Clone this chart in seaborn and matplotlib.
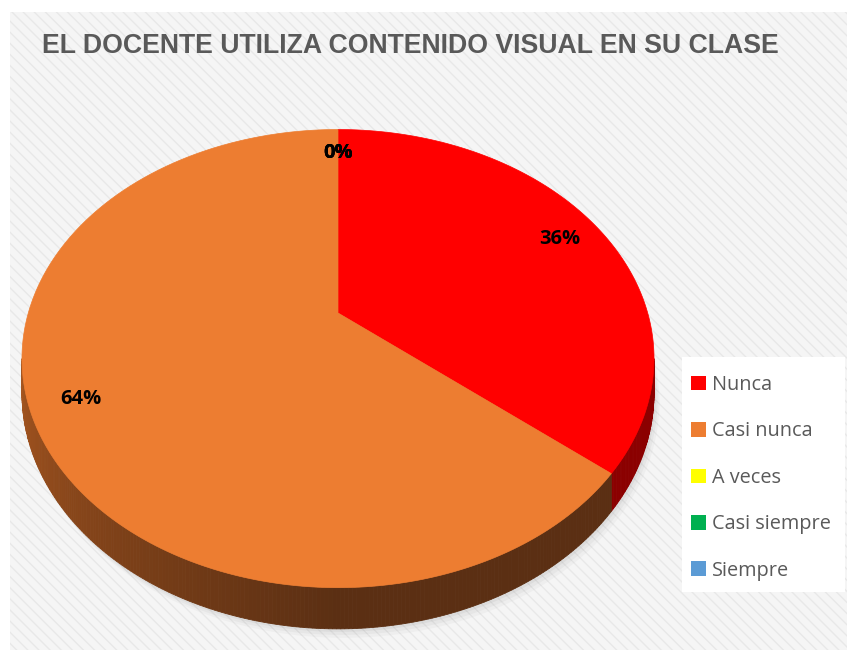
import matplotlib.pyplot as plt
import numpy as np
import seaborn as sns
from matplotlib.colors import to_rgb
from matplotlib.patches import Patch, Rectangle

# --- data ---
title = "EL DOCENTE UTILIZA CONTENIDO VISUAL EN SU CLASE"
categories = ["Nunca", "Casi nunca", "A veces", "Casi siempre", "Siempre"]
values = [36, 64, 0, 0, 0]
slice_colors = ["#ff0000", "#ed7d31", "#ffff00", "#00b050", "#5b9bd5"]
side_colors = ["#8b0000", "#5e3115", "#8c8c00", "#00582a", "#2e5a80"]

sns.set_theme(style="white")
plt.rcParams["font.family"] = ["Open Sans", "DejaVu Sans"]
palette = sns.color_palette(slice_colors)

fig = plt.figure(figsize=(8.47, 6.5), dpi=100)
ax = fig.add_axes([0, 0, 1, 1])
ax.set_xlim(0, 847)
ax.set_ylim(650, 0)
ax.axis("off")

# chart area background with diagonal stripes
bg = Rectangle((10, 12), 837, 640, facecolor="#f5f5f5", edgecolor="#e8e8e8",
               hatch="\\\\\\", linewidth=0, zorder=0)
ax.add_patch(bg)

# perspective pie geometry (screen pixels)
cx, cy = 338, 313
A, B, k = 309.7, 220.0, 0.199
D = 33.0


def proj(frac, r=1.0):
    th = 2 * np.pi * np.asarray(frac)
    u = r * np.sin(th)
    v = r * np.cos(th)
    w = 1 + k * v
    return cx + A * u / w, cy - B * v / w, w


fracs = np.array(values, dtype=float) / sum(values)
starts = np.concatenate([[0], np.cumsum(fracs)[:-1]])
ends = np.cumsum(fracs)

# soft shadow under the pie
full = np.linspace(0, 1, 400)
sx, sy, sw = proj(full)
for off, al in [(9, 0.05), (6, 0.07), (3, 0.09)]:
    ax.fill(sx + off * 0.6, sy + D / sw + off, color="#7f7f7f", alpha=al, lw=0, zorder=1)

# visible side of the pie
f_right = np.arccos(-k) / (2 * np.pi)
f_left = 1 - f_right
dark = np.array(to_rgb("#5b2f13"))
light = np.array(to_rgb("#a5551f"))
for i, (f0, f1) in enumerate(zip(starts, ends)):
    a, b = max(f0, f_right), min(f1, f_left)
    if b <= a:
        continue
    n = max(int((b - a) * 600), 2)
    fs = np.linspace(a, b, n + 1)
    for j in range(n):
        seg = np.array([fs[j], fs[j + 1]])
        x, y, w = proj(seg)
        t = ((fs[j] + fs[j + 1]) / 2 - f_right) / (f_left - f_right)
        base = np.array(to_rgb(side_colors[i]))
        if i == 1:
            m = np.clip((t - 0.5) / 0.5, 0, 1)
            c = dark + (light - dark) * m
        else:
            c = base
        px = [x[0], x[1], x[1], x[0]]
        py = [y[0], y[1], y[1] + D / w[1], y[0] + D / w[0]]
        ax.fill(px, py, color=c, lw=0.6, ec=c, zorder=2)

# top faces
for i, (f0, f1) in enumerate(zip(starts, ends)):
    if f1 - f0 <= 0:
        continue
    fs = np.linspace(f0, f1, max(int((f1 - f0) * 500), 4))
    x, y, _ = proj(fs)
    ax.fill(np.concatenate([[cx], x]), np.concatenate([[cy], y]),
            color=palette[i], lw=0.5, ec=palette[i], zorder=3)

# percentage labels
for i, (f0, f1) in enumerate(zip(starts, ends)):
    lx, ly, _ = proj((f0 + f1) / 2, r=0.85)
    ax.text(lx, ly, f"{values[i]}%", ha="center", va="center",
            fontsize=14.5, fontweight="bold", color="black", zorder=4)

# title, shrunk to the reference width
ttl = ax.text(42, 46, title, ha="left", va="center", fontsize=22, fontweight="bold",
              color="#595959", family=["Liberation Sans", "DejaVu Sans"], zorder=4)
renderer = fig.canvas.get_renderer()
tw = ttl.get_window_extent(renderer).width
ttl.set_fontsize(22 * 738 / tw)

# legend
ax.add_patch(Rectangle((682, 357), 163, 235, facecolor="white", lw=0, zorder=1))
handles = [Patch(facecolor=palette[i], edgecolor="none") for i in range(len(categories))]
leg = ax.legend(handles, categories, loc="upper left",
                bbox_to_anchor=(691 / 847, 1 - 375 / 650), bbox_transform=fig.transFigure,
                frameon=False, fontsize=14.3, labelcolor="#595959",
                handlelength=0.75, handleheight=0.75, handletextpad=0.3,
                labelspacing=1.33, borderpad=0, borderaxespad=0)

fig.savefig("out.png", dpi=100)
